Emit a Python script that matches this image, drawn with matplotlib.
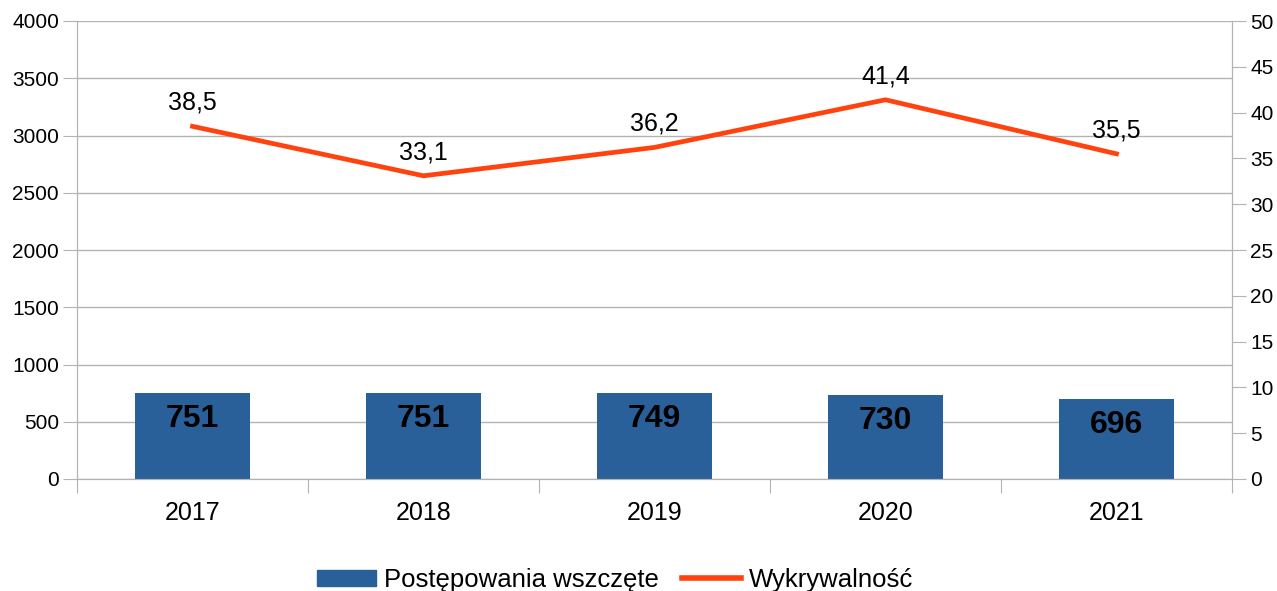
import matplotlib.pyplot as plt
from matplotlib.patches import Patch
from matplotlib.lines import Line2D

plt.rcParams['font.family'] = ['Liberation Sans', 'DejaVu Sans']

years = ['2017', '2018', '2019', '2020', '2021']
postepowania = [751, 751, 749, 730, 696]
wykrywalnosc = [38.5, 33.1, 36.2, 41.4, 35.5]

bar_color = '#2a6099'
line_color = '#ff420e'
grid_color = '#b3b3b3'

fig = plt.figure(figsize=(12.77, 5.91), dpi=100)
ax = fig.add_axes([77 / 1277, 1 - 479 / 591, 1155 / 1277, 458 / 591])
ax2 = ax.twinx()

x = list(range(len(years)))
ax.bar(x, postepowania, width=0.5, color=bar_color, zorder=2)
for xi, v in zip(x, postepowania):
    ax.annotate(str(v), (xi, v), xytext=(0, -18.5), textcoords='offset points',
                ha='center', va='center', fontsize=23, fontweight='bold', color='black')

ax2.plot(x, wykrywalnosc, color=line_color, linewidth=3.4, zorder=3)
for xi, v in zip(x, wykrywalnosc):
    ax2.annotate(f"{v:.1f}".replace('.', ','), (xi, v), xytext=(0, 17), textcoords='offset points',
                 ha='center', va='center', fontsize=18, color='black')

ax.set_xlim(-0.5, 4.5)
ax.set_ylim(0, 4000)
ax.set_yticks(range(0, 4001, 500))
ax2.set_ylim(0, 50)
ax2.set_yticks(range(0, 51, 5))

# category boundaries get the ticks, year labels sit between them
ax.set_xticks([i - 0.5 for i in range(6)])
ax.set_xticklabels([])
ax.set_xticks(x, minor=True)
ax.set_xticklabels(years, minor=True)
ax.tick_params(axis='x', which='major', length=10, color=grid_color)
ax.tick_params(axis='x', which='minor', length=0, labelsize=18, pad=16)
ax.tick_params(axis='y', length=10, color=grid_color, labelsize=15, pad=3)
ax2.tick_params(axis='y', length=10, color=grid_color, labelsize=15, pad=3)

ax.grid(axis='y', color=grid_color, linewidth=1, zorder=0)
ax.set_axisbelow(True)
for a in (ax, ax2):
    a.spines['top'].set_visible(False)
    a.spines['left'].set_color(grid_color)
    a.spines['right'].set_color(grid_color)
    a.spines['bottom'].set_color(grid_color)

handles = [Patch(color=bar_color, label='Postępowania wszczęte'),
           Line2D([0], [0], color=line_color, linewidth=4, label='Wykrywalność')]
fig.legend(handles=handles, loc='center', bbox_to_anchor=(615 / 1277, 1 - 580 / 591),
           ncol=2, frameon=False, fontsize=18.5, handlelength=2.3, handleheight=0.6,
           columnspacing=0.9, handletextpad=0.3)

fig.savefig('out.png', dpi=100)
